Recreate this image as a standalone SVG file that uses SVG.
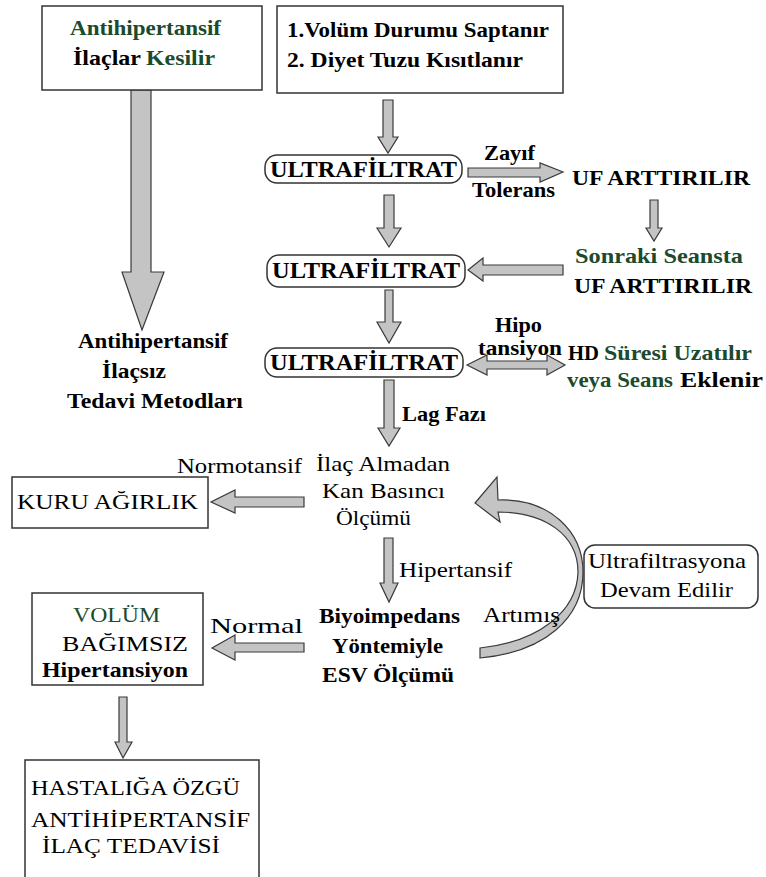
<svg xmlns="http://www.w3.org/2000/svg" width="766" height="877" viewBox="0 0 766 877">
<style>
  text { font-family: "Liberation Serif", "DejaVu Serif", "Noto Serif", serif; font-size: 22px; fill: #000; }
  .b { font-weight: bold; }
  .g { fill: #1b4a2c; }
  .u { font-size: 24px; font-weight: bold; }
  .box { fill: #fff; stroke: #333; stroke-width: 1.5; }
  .arr { fill: #c4c4c4; stroke: #3a3a3a; stroke-width: 1.2; stroke-linejoin: miter; }
</style>
<rect x="0" y="0" width="766" height="877" fill="#fff"/>

<g id="connectors">
  <polygon class="arr" points="131,90 151,90 151,272 164,272 142,330 122,272 131,272"/>
  <polygon class="arr" points="383,100 393,100 393,137 398,137 388,153 378,137 383,137"/>
  <polygon class="arr" points="384,195 394,195 394,228 401,228 389,247 377,228 384,228"/>
  <polygon class="arr" points="385,290 393,290 393,322 401,322 389,343 377,322 385,322"/>
  <polygon class="arr" points="384,380 394,380 394,428 400,428 389,446 378,428 384,428"/>
  <polygon class="arr" points="384,538 393,538 393,583 398,583 389,602 380,583 384,583"/>
  <polygon class="arr" points="468,168 540,168 540,163 563,172 540,182 540,177 468,177"/>
  <polygon class="arr" points="650,200 658,200 658,228 662,228 654,241 646,228 650,228"/>
  <polygon class="arr" points="563,265 563,275 483,275 483,281 468,270 483,258 483,265"/>
  <polygon class="arr" points="467,365 487,355 487,361 547,361 547,355 565,365 547,375 547,369 487,369 487,375"/>
  <polygon class="arr" points="304,497 304,507 235,507 235,513 211,502 235,490 235,497"/>
  <polygon class="arr" points="304,643 304,652 235,652 235,660 212,648 235,635 235,643"/>
  <polygon class="arr" points="119,697 127,697 127,742 132,742 123,758 115,742 119,742"/>
  <path class="arr" d="M498,500 C550,498 583,532 583,572 C583,618 545,652 480,658 L480,648 C538,642 577,612 578,572 C578,535 545,512 498,512 L500,522 L475,503 L497,477 Z"/>
</g>

<g id="n-antihip-kesilir">
  <rect class="box" x="42" y="6" width="220" height="84"/>
  <text class="b g" x="70" y="35" textLength="151" lengthAdjust="spacingAndGlyphs">Antihipertansif</text>
  <text class="b" x="73" y="65" textLength="68" lengthAdjust="spacingAndGlyphs">İlaçlar</text>
  <text class="b g" x="146" y="65" textLength="69" lengthAdjust="spacingAndGlyphs">Kesilir</text>
</g>

<g id="n-volum-durumu">
  <rect class="box" x="277" y="6" width="286" height="87"/>
  <text class="b" x="287" y="37" textLength="262" lengthAdjust="spacingAndGlyphs">1.Volüm Durumu Saptanır</text>
  <text class="b" x="287" y="67" textLength="236" lengthAdjust="spacingAndGlyphs">2. Diyet Tuzu Kısıtlanır</text>
</g>

<g id="n-ilacsiz">
  <text class="b" x="78" y="348" textLength="150" lengthAdjust="spacingAndGlyphs">Antihipertansif</text>
  <text class="b" x="102" y="378" textLength="64" lengthAdjust="spacingAndGlyphs">İlaçsız</text>
  <text class="b" x="67" y="408" textLength="176" lengthAdjust="spacingAndGlyphs">Tedavi Metodları</text>
</g>

<g id="n-ultra1">
  <rect class="box" x="265" y="155" width="197" height="28" rx="12"/>
  <text class="u" x="270" y="177" textLength="187" lengthAdjust="spacingAndGlyphs">ULTRAFİLTRAT</text>
</g>
<g id="n-ultra2">
  <rect class="box" x="267" y="255" width="198" height="32" rx="12"/>
  <text class="u" x="272" y="278" textLength="188" lengthAdjust="spacingAndGlyphs">ULTRAFİLTRAT</text>
</g>
<g id="n-ultra3">
  <rect class="box" x="265" y="348" width="198" height="29" rx="12"/>
  <text class="u" x="270" y="370" textLength="188" lengthAdjust="spacingAndGlyphs">ULTRAFİLTRAT</text>
</g>

<g id="l-zayif">
  <text class="b" x="484" y="160" textLength="51" lengthAdjust="spacingAndGlyphs">Zayıf</text>
  <text class="b" x="472" y="197" textLength="83" lengthAdjust="spacingAndGlyphs">Tolerans</text>
</g>

<g id="n-uf1">
  <text class="b" x="572" y="185" textLength="178" lengthAdjust="spacingAndGlyphs">UF ARTTIRILIR</text>
</g>

<g id="n-sonraki">
  <text class="b g" x="575" y="263" textLength="168" lengthAdjust="spacingAndGlyphs">Sonraki Seansta</text>
  <text class="b" x="574" y="293" textLength="178" lengthAdjust="spacingAndGlyphs">UF ARTTIRILIR</text>
</g>

<g id="l-hipo">
  <text class="b" x="495" y="332" font-size="20" textLength="47" lengthAdjust="spacingAndGlyphs">Hipo</text>
  <text class="b" x="478" y="355" font-size="18" textLength="84" lengthAdjust="spacingAndGlyphs">tansiyon</text>
</g>

<g id="n-hd">
  <text class="b" x="568" y="360" textLength="31" lengthAdjust="spacingAndGlyphs">HD</text>
  <text class="b g" x="604" y="360" textLength="148" lengthAdjust="spacingAndGlyphs">Süresi Uzatılır</text>
  <text class="b g" x="567" y="387" textLength="106" lengthAdjust="spacingAndGlyphs">veya Seans</text>
  <text class="b" x="680" y="387" textLength="83" lengthAdjust="spacingAndGlyphs">Eklenir</text>
</g>

<g id="l-lag">
  <text class="b" x="402" y="421" textLength="84" lengthAdjust="spacingAndGlyphs">Lag Fazı</text>
</g>

<g id="n-ilac-almadan">
  <text x="316" y="471" textLength="134" lengthAdjust="spacingAndGlyphs">İlaç Almadan</text>
  <text x="322" y="498" textLength="123" lengthAdjust="spacingAndGlyphs">Kan Basıncı</text>
  <text x="336" y="525" textLength="75" lengthAdjust="spacingAndGlyphs">Ölçümü</text>
</g>

<g id="l-normotansif">
  <text x="177" y="473" textLength="125" lengthAdjust="spacingAndGlyphs">Normotansif</text>
</g>

<g id="n-kuru">
  <rect class="box" x="12" y="477" width="196" height="51"/>
  <text x="17" y="509" font-size="24" textLength="181" lengthAdjust="spacingAndGlyphs">KURU AĞIRLIK</text>
</g>

<g id="l-hipertansif">
  <text x="399" y="577" textLength="113" lengthAdjust="spacingAndGlyphs">Hipertansif</text>
</g>

<g id="n-ultra-devam">
  <rect class="box" x="584" y="545" width="174" height="63" rx="11"/>
  <text x="588" y="568" textLength="158" lengthAdjust="spacingAndGlyphs">Ultrafiltrasyona</text>
  <text x="600" y="597" textLength="133" lengthAdjust="spacingAndGlyphs">Devam Edilir</text>
</g>

<g id="l-artmis">
  <text x="483" y="622" textLength="77" lengthAdjust="spacingAndGlyphs">Artımış</text>
</g>

<g id="n-biyo">
  <text class="b" x="319" y="623" textLength="141" lengthAdjust="spacingAndGlyphs">Biyoimpedans</text>
  <text class="b" x="332" y="653" textLength="111" lengthAdjust="spacingAndGlyphs">Yöntemiyle</text>
  <text class="b" x="322" y="682" textLength="132" lengthAdjust="spacingAndGlyphs">ESV Ölçümü</text>
</g>

<g id="l-normal">
  <text x="210" y="633" textLength="93" lengthAdjust="spacingAndGlyphs">Normal</text>
</g>

<g id="n-volum-bagimsiz">
  <rect class="box" x="32" y="593" width="171" height="92"/>
  <text class="g" x="73" y="622" textLength="87" lengthAdjust="spacingAndGlyphs">VOLÜM</text>
  <text x="62" y="651" textLength="126" lengthAdjust="spacingAndGlyphs">BAĞIMSIZ</text>
  <text class="b" x="42" y="677" textLength="146" lengthAdjust="spacingAndGlyphs">Hipertansiyon</text>
</g>

<g id="n-hastaliga">
  <rect class="box" x="25" y="760" width="234" height="130"/>
  <text x="31" y="795" font-size="23" textLength="209" lengthAdjust="spacingAndGlyphs">HASTALIĞA ÖZGÜ</text>
  <text x="31" y="827" font-size="23" textLength="219" lengthAdjust="spacingAndGlyphs">ANTİHİPERTANSİF</text>
  <text x="42" y="853" font-size="23" textLength="178" lengthAdjust="spacingAndGlyphs">İLAÇ TEDAVİSİ</text>
</g>
</svg>
